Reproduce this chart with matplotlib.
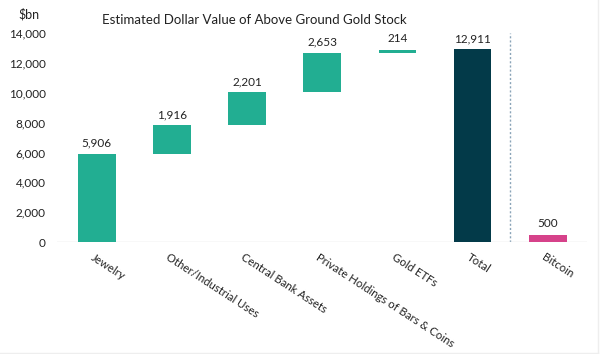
import matplotlib.pyplot as plt
from matplotlib.transforms import ScaledTranslation
from matplotlib.lines import Line2D

categories = ["Jewelry", "Other/Industrial Uses", "Central Bank Assets",
              "Private Holdings of Bars & Coins", "Gold ETFs", "Total", "Bitcoin"]
values = [5906, 1916, 2201, 2653, 214, 12911, 500]
kinds = ["step", "step", "step", "step", "step", "total", "other"]

colors = {"step": "#22ae92", "total": "#033a49", "other": "#d6428a"}

plt.rcParams['font.family'] = ['Lato', 'DejaVu Sans']

fig = plt.figure(figsize=(6, 3.54), dpi=100)
ax = fig.add_axes([0.095, 0.316, 0.883, 0.591])

running = 0
for i, (cat, v, k) in enumerate(zip(categories, values, kinds)):
    if k == "step":
        bottom = running
        running += v
    else:
        bottom = 0
    ax.bar(i, v, bottom=bottom, width=0.5, color=colors[k], zorder=3)
    ax.text(i, bottom + v + 350, f"{v:,}", ha='center', va='bottom',
            fontsize=8.5, color='#222222')

ax.axvline(5.5, color='#8aa4b8', linestyle=(0, (1.5, 1.5)), linewidth=1)
ax.axhline(0, color='#dddddd', linewidth=1, zorder=2)

ax.set_xlim(-0.53, 6.52)
ax.set_ylim(0, 14000)
ax.set_yticks(range(0, 14001, 2000))
ax.set_yticklabels([f"{t:,}" for t in range(0, 14001, 2000)], fontsize=8.5, color='#222222')
ax.set_xticks(range(len(categories)))
ax.set_xticklabels(categories, rotation=-33, ha='left', va='top',
                   rotation_mode='anchor', fontsize=8.2, color='#222222')
ax.tick_params(length=0)
ax.tick_params(axis='x', pad=7)
ax.tick_params(axis='y', pad=8)
for lab in ax.get_xticklabels():
    lab.set_transform(lab.get_transform() + ScaledTranslation(-0.02, 0, fig.dpi_scale_trans))
for s in ax.spines.values():
    s.set_visible(False)

fig.text(18 / 600, 1 - 14 / 354, "$bn", fontsize=9, color='#222222', ha='left', va='center')
fig.text(102 / 600, 1 - 20 / 354, "Estimated Dollar Value of Above Ground Gold Stock",
         fontsize=9.5, color='#222222', ha='left', va='center')

fig.add_artist(Line2D([0, 0.997], [0.003, 0.003], color='#eeeeee', linewidth=1))
fig.add_artist(Line2D([0.997, 0.997], [0.003, 1], color='#eeeeee', linewidth=1))

fig.savefig("out.png", dpi=100)
